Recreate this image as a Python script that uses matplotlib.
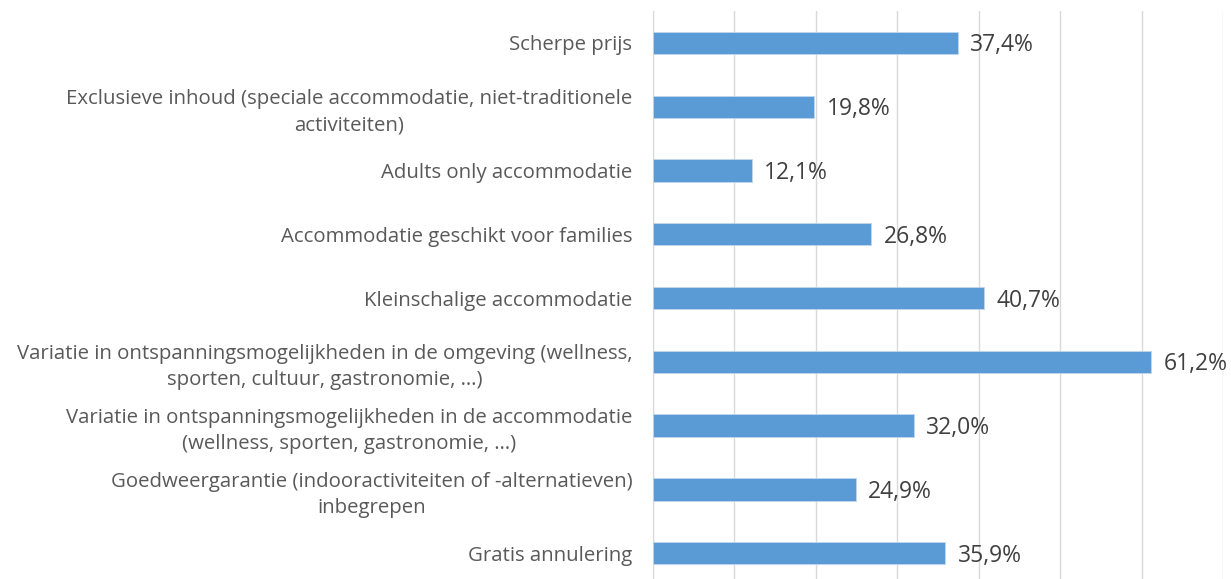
import numpy as np
import matplotlib
matplotlib.use("Agg")
import matplotlib.pyplot as plt

# category labels, top to bottom
categories = [
    "Scherpe prijs",
    "Exclusieve inhoud (speciale accommodatie, niet-traditionele\nactiviteiten)",
    "Adults only accommodatie",
    "Accommodatie geschikt voor families",
    "Kleinschalige accommodatie",
    "Variatie in ontspanningsmogelijkheden in de omgeving (wellness,\nsporten, cultuur, gastronomie, \u2026)",
    "Variatie in ontspanningsmogelijkheden in de accommodatie\n(wellness, sporten, gastronomie, \u2026)",
    "Goedweergarantie (indooractiviteiten of -alternatieven)\ninbegrepen",
    "Gratis annulering",
]
values = [37.4, 19.8, 12.1, 26.8, 40.7, 61.2, 32.0, 24.9, 35.9]
value_labels = ["37,4%", "19,8%", "12,1%", "26,8%", "40,7%", "61,2%", "32,0%", "24,9%", "35,9%"]

plt.rcParams['font.family'] = ['Open Sans', 'DejaVu Sans']

fig = plt.figure(figsize=(12.31, 5.79), dpi=100)
ax = fig.add_axes([0.5305, -0.0104, 0.463, 0.9914])

y = np.arange(len(categories))
ax.barh(y, values, height=0.35, color="#5B9BD5", edgecolor="#BDD7EE", linewidth=0.6, zorder=3)

for yi, v, lab in zip(y, values, value_labels):
    ax.text(v + 1.5, yi + 0.04, lab, va="center", ha="left", fontsize=16.5, color="#404040", zorder=4)

ax.set_xlim(0, 70)
ax.set_ylim(len(categories) - 0.5, -0.5)
ax.set_xticks(np.arange(0, 71, 10))
ax.xaxis.grid(True, color="#D9D9D9", linewidth=1, zorder=0)
ax.tick_params(axis="x", length=0, labelbottom=False)

ax.set_yticks(y)
ax.set_yticklabels(categories, fontsize=14.7, color="#595959", linespacing=1.4)
for t in ax.get_yticklabels():
    t.set_multialignment("center")
ax.tick_params(axis="y", length=0, pad=15)

for s in ["top", "right", "bottom"]:
    ax.spines[s].set_visible(False)
ax.spines["left"].set_color("#D9D9D9")

fig.savefig("out.png", dpi=100)
